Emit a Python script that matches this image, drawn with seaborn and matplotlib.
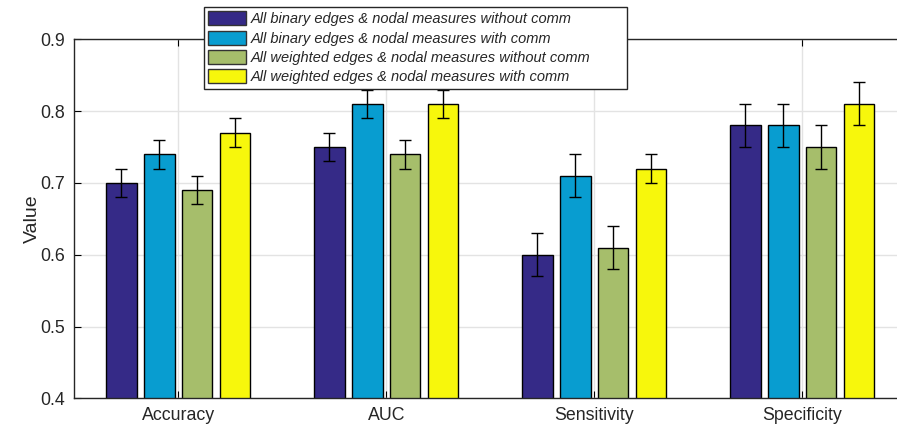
import numpy as np
import pandas as pd
import matplotlib
matplotlib.use("Agg")
import matplotlib.pyplot as plt
import seaborn as sns

metrics = ["Accuracy", "AUC", "Sensitivity", "Specificity"]
series = [
    "All binary edges & nodal measures without comm",
    "All binary edges & nodal measures with comm",
    "All weighted edges & nodal measures without comm",
    "All weighted edges & nodal measures with comm",
]
binary_no_comm = [0.70, 0.75, 0.60, 0.78]
binary_comm = [0.74, 0.81, 0.71, 0.78]
weighted_no_comm = [0.69, 0.74, 0.61, 0.75]
weighted_comm = [0.77, 0.81, 0.72, 0.81]

binary_no_comm_err = [0.02, 0.02, 0.03, 0.03]
binary_comm_err = [0.02, 0.02, 0.03, 0.03]
weighted_no_comm_err = [0.02, 0.02, 0.03, 0.03]
weighted_comm_err = [0.02, 0.02, 0.02, 0.03]

colors = ["#352a87", "#089dd0", "#a6be6b", "#f7f70c"]
yticks = [0.4, 0.5, 0.6, 0.7, 0.8, 0.9]

values = [binary_no_comm, binary_comm, weighted_no_comm, weighted_comm]
errors = [binary_no_comm_err, binary_comm_err, weighted_no_comm_err, weighted_comm_err]

rows = []
for name, vals in zip(series, values):
    for m, v in zip(metrics, vals):
        rows.append({"Metric": m, "Model": name, "Value": v})
df = pd.DataFrame(rows)

sns.set_style("whitegrid")
plt.rcParams["font.family"] = ["Liberation Sans", "DejaVu Sans"]

fig = plt.figure(figsize=(8.97, 4.25), dpi=100)
ax = fig.add_axes([74.3 / 897, 1 - 398.3 / 425, 832 / 897, 359 / 425])

sns.barplot(data=df, x="Metric", y="Value", hue="Model", order=metrics,
            hue_order=series, palette=colors, width=0.73, gap=0.2,
            errorbar=None, edgecolor="black", linewidth=1.0, saturation=1,
            ax=ax)

# error bars on top of each bar
for cont, err in zip(ax.containers, errors):
    xs = [b.get_x() + b.get_width() / 2 for b in cont]
    hs = [b.get_height() for b in cont]
    ax.errorbar(xs, hs, yerr=err, fmt="none", ecolor="black",
                elinewidth=1.0, capsize=4.3, capthick=1.0, zorder=5)

ax.set_ylim(0.4, 0.9)
ax.set_xlim(-0.5, 3.5)
ax.set_yticks(yticks)
ax.set_yticklabels([f"{t:.1f}" for t in yticks])
ax.set_xlabel("")
ax.set_ylabel("Value", fontsize=14, labelpad=-1)
ax.tick_params(axis="both", labelsize=12.8, direction="in", length=5,
               width=0.8, color="black", colors="#262626",
               top=True, right=True, bottom=True, left=True)
ax.tick_params(axis="y", pad=7)
ax.tick_params(axis="x", pad=6)
ax.grid(True, color="#e3e3e3", linewidth=1.0)
ax.set_axisbelow(True)
for s in ax.spines.values():
    s.set_visible(True)
    s.set_color("#262626")
    s.set_linewidth(1.0)

ax.get_legend().remove()
handles = [plt.Rectangle((0, 0), 1, 1, facecolor=c, edgecolor="#333333", linewidth=1.0)
           for c in colors]
leg = fig.legend(handles, series, loc="upper left", mode="expand",
                 bbox_to_anchor=(204 / 897, 1 - 87 / 425, 423 / 897, 80 / 425),
                 bbox_transform=fig.transFigure,
                 prop={"style": "italic", "size": 10.5},
                 frameon=True, fancybox=False, framealpha=1,
                 edgecolor="#262626", borderpad=0.3, labelspacing=0.3,
                 handlelength=2.6, handleheight=1.1, handletextpad=0.3,
                 borderaxespad=0)
leg.get_frame().set_linewidth(1.0)

fig.savefig("out.png", dpi=100)
